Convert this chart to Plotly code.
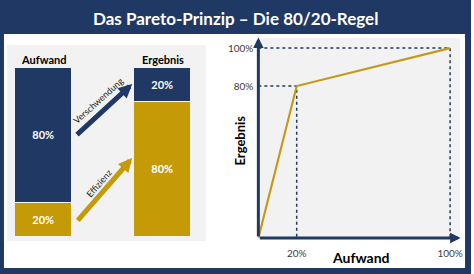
import plotly.graph_objects as go

W, H = 474, 274
NAVY = "#203864"
GOLD = "#c49a06"
LINE_GOLD = "#c49a1a"
GREY = "#f2f2f2"
FONT = "Lato"

# ---- data ----
title = "Das Pareto-Prinzip – Die 80/20-Regel"
bar_categories = ["Aufwand", "Ergebnis"]
bar_pos = [0, 1]
gold_share = [20, 80]     # bottom segment
navy_share = [80, 20]     # top segment
curve_x = [0, 20, 100]    # Aufwand %
curve_y = [0, 80, 100]    # Ergebnis %
x_ticks = [20, 100]
x_ticktext = ["20%", "100%"]
y_ticks = [80, 100]
y_ticktext = ["80%", "100%"]
arrow_labels = ["Verschwendung", "Effizienz"]


def fx(px):
    return px / W


def fy(py):
    return 1 - py / H


fig = go.Figure()

# left stacked bars
fig.add_trace(go.Bar(
    x=bar_pos, y=gold_share, xaxis="x2", yaxis="y2", width=0.483,
    marker=dict(color=GOLD, line=dict(color=GREY, width=1.5)),
    text=[f"{v}%" for v in gold_share], textposition="inside",
    insidetextanchor="middle",
    textfont=dict(family=FONT, size=11, color="white", weight="bold"),
    hoverinfo="skip", showlegend=False))
fig.add_trace(go.Bar(
    x=bar_pos, y=navy_share, xaxis="x2", yaxis="y2", width=0.483,
    marker=dict(color=NAVY, line=dict(color=GREY, width=1.5)),
    text=[f"{v}%" for v in navy_share], textposition="inside",
    insidetextanchor="middle",
    textfont=dict(family=FONT, size=11, color="white", weight="bold"),
    hoverinfo="skip", showlegend=False))

# dotted guide lines on the right chart
for xv, yv in zip(curve_x[1:], curve_y[1:]):
    fig.add_trace(go.Scatter(
        x=[0, xv, xv], y=[yv, yv, 0], mode="lines",
        line=dict(color=NAVY, width=1.5, dash="dot"),
        hoverinfo="skip", showlegend=False))

# Pareto curve
fig.add_trace(go.Scatter(
    x=curve_x, y=curve_y, mode="lines",
    line=dict(color=LINE_GOLD, width=2.2),
    hoverinfo="skip", showlegend=False))

annotations = []


def label(text, px, py, size, color="black", bold=True, angle=0):
    annotations.append(dict(text=text, x=fx(px), y=fy(py), xref="paper", yref="paper",
                            xanchor="center", yanchor="middle", showarrow=False,
                            textangle=angle,
                            font=dict(family=FONT, size=size, color=color,
                                      weight="bold" if bold else "normal")))


# title
label(title, 237, 18, 17, color="white")
# bar headers
for cat, px in zip(bar_categories, [44, 164]):
    label(cat, px, 59, 11)
# arrows between bars
arrows = [((0.267, 59.8), (0.742, 90.5), NAVY, (99, 101), -42),
          ((0.275, 8.9), (0.742, 46.7), GOLD, (99, 183), -49)]
for lab, (tail, head, col, tpos, ang) in zip(arrow_labels, arrows):
    annotations.append(dict(x=head[0], y=head[1], ax=tail[0], ay=tail[1],
                            xref="x2", yref="y2", axref="x2", ayref="y2",
                            showarrow=True, arrowhead=2, arrowsize=0.55, arrowwidth=5,
                            arrowcolor=col, text=""))
    label(lab, tpos[0], tpos[1], 9, color="#222222", bold=False, angle=ang)
# axis arrows of right chart
annotations.append(dict(x=105.5, y=0, ax=0, ay=0, xref="x", yref="y", axref="x", ayref="y",
                        showarrow=True, arrowhead=2, arrowsize=0.7, arrowwidth=3,
                        arrowcolor=NAVY, text=""))
annotations.append(dict(x=0, y=105.5, ax=0, ay=0, xref="x", yref="y", axref="x", ayref="y",
                        showarrow=True, arrowhead=2, arrowsize=0.7, arrowwidth=3,
                        arrowcolor=NAVY, text=""))
# axis titles
label("Aufwand", 363, 257, 14)
label("Ergebnis", 242, 140, 13, angle=-90)

# navy frame
shapes = [
    dict(type="rect", xref="paper", yref="paper", x0=0, x1=1, y0=fy(34), y1=1,
         fillcolor=NAVY, line=dict(width=0), layer="below"),
    dict(type="rect", xref="paper", yref="paper", x0=0, x1=fx(4), y0=0, y1=1,
         fillcolor=NAVY, line=dict(width=0), layer="below"),
    dict(type="rect", xref="paper", yref="paper", x0=fx(468), x1=1, y0=0, y1=1,
         fillcolor=NAVY, line=dict(width=0), layer="below"),
    dict(type="rect", xref="paper", yref="paper", x0=0, x1=1, y0=0, y1=fy(268),
         fillcolor=NAVY, line=dict(width=0), layer="below"),
]

tickfont = dict(family=FONT, size=10, color="#404040")
fig.update_layout(
    width=W, height=H, autosize=False,
    margin=dict(l=0, r=0, t=0, b=0),
    paper_bgcolor="white", plot_bgcolor=GREY,
    barmode="stack", bargap=0,
    showlegend=False,
    xaxis=dict(domain=[fx(260), fx(463)], range=[0, 105.2], tickvals=x_ticks,
               ticktext=x_ticktext, showgrid=False, zeroline=False, showline=False,
               tickfont=tickfont, ticklabelstandoff=8, fixedrange=True),
    yaxis=dict(domain=[fy(238), fy(38)], range=[0, 105.3], tickvals=y_ticks,
               ticktext=y_ticktext, showgrid=False, zeroline=False, showline=False,
               tickfont=tickfont, ticklabelstandoff=4, fixedrange=True),
    xaxis2=dict(domain=[fx(7), fx(207)], range=[-0.308, 1.358], visible=False,
                anchor="y2", fixedrange=True),
    yaxis2=dict(domain=[fy(241), fy(45)], range=[-2.37, 113.6], visible=False,
                anchor="x2", fixedrange=True),
    annotations=annotations,
    shapes=shapes,
)

fig.write_html("out.html")
